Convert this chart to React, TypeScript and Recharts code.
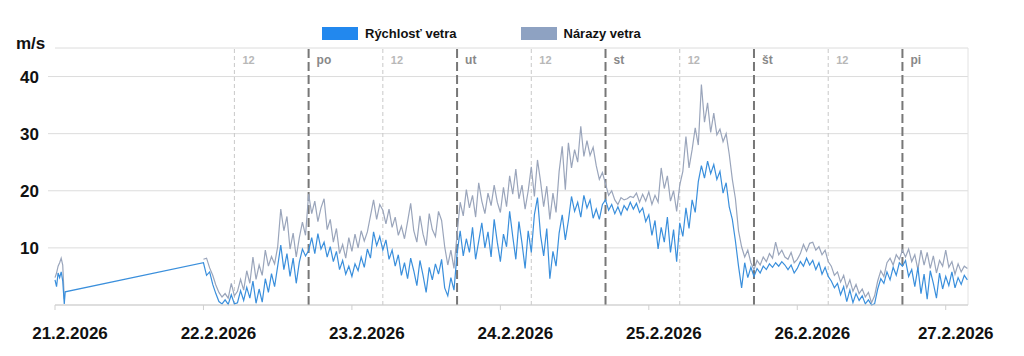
import { LineChart, Line, XAxis, YAxis, CartesianGrid, ReferenceLine } from "recharts";

const FONT = '"Liberation Sans", Arial, Helvetica, sans-serif';
const SPEED_COLOR = "#3a8fdc";
const GUST_COLOR = "#9aa5bb";

// short burst on 21.2 (hours counted from 21.2 00:00)
const FIRST_HOURS = [7.0, 7.25, 7.5, 7.75, 8.0, 8.25, 8.5, 8.65];
const FIRST_SPEED = [4.4, 3.2, 5.6, 4.8, 5.8, 4.2, 0.2, 2.3];
const FIRST_GUST = [4.8, 5.6, 6.8, 7.4, 8.2, 7.0, 1.0, null];

// from 22.2 07:00, one value every 30 min
const MAIN_START = 31;
const MAIN_STEP = 0.5;

const SPEED = [
  // 22.2
  7.4, 5.2, 5.8, 3.6, 2.0, 0.6, 0.2, 0.9, 0.1, 1.8, 0.2, 0.4, 2.5, 0.8, 3.1, 1.2, 4.2, 0.3, 2.8, 0.5,
  4.6, 2.2, 5.5, 3.2, 6.8, 10.5, 6.2, 9.0, 5.0, 8.2, 3.8, 7.5, 9.8, 8.6,
  // 23.2
  9.5, 11.8, 9.0, 12.5, 9.8, 11.0, 8.4, 10.2, 7.6, 9.4, 6.2, 7.8, 5.4, 6.8, 5.0, 7.2, 6.0, 8.4, 6.6, 9.8,
  8.2, 12.8, 10.4, 12.0, 9.6, 11.4, 8.0, 9.6, 6.8, 8.8, 5.2, 7.4, 4.6, 8.2, 6.0, 3.4, 7.8, 5.2, 2.2, 6.6,
  4.4, 7.2, 5.4, 8.0, 3.0, 1.6, 4.8, 2.6,
  // 24.2
  9.0, 13.0, 8.6, 11.6, 9.2, 13.6, 8.0, 11.2, 14.4, 10.0, 12.8, 8.4, 15.0, 11.0, 7.6, 12.4, 10.2, 16.4, 12.0, 8.0,
  14.6, 10.8, 6.4, 13.0, 9.2, 15.8, 18.8, 12.2, 8.6, 13.4, 4.6, 9.4, 6.8, 12.6, 15.8, 11.4, 14.8, 19.0, 16.4, 18.0,
  15.4, 19.2, 17.0, 18.4, 15.2, 16.8, 15.0, 17.6,
  // 25.2
  18.4, 16.6, 17.6, 16.0, 17.2, 15.8, 17.4, 16.6, 18.0, 16.8, 17.8, 16.2, 17.0, 14.6, 15.8, 12.2, 14.8, 9.8, 13.6, 11.0,
  15.4, 9.2, 13.2, 7.6, 14.4, 12.0, 17.0, 13.4, 18.4, 16.2, 21.6, 24.4, 22.2, 25.2, 23.0, 24.6, 22.0, 23.4, 19.6, 21.4,
  17.2, 15.0, 11.2, 6.8, 3.0, 7.4, 4.8, 6.6,
  // 26.2
  5.0, 6.4, 5.6, 6.8, 6.2, 7.2, 6.6, 7.4, 6.8, 7.6, 7.0, 6.2, 7.0, 5.6, 6.4, 7.6, 6.8, 8.2, 7.0, 7.8,
  6.2, 7.4, 5.4, 6.6, 5.0, 4.2, 3.0, 3.8, 1.8, 3.2, 0.6, 2.6, 0.4, 2.0, 0.8, 1.6, 0.2, 0.9, 0.0, 0.2,
  2.8, 4.6, 3.8, 5.8, 4.4, 6.6, 5.2, 7.4,
  // 27.2
  6.8, 7.8, 5.0, 6.2, 3.2, 6.6, 2.0, 5.4, 1.0, 6.0, 3.8, 1.2, 5.6, 2.8, 5.0, 3.4, 5.8, 3.0, 4.8, 3.6,
  5.2, 4.4,
];

const GUST = [
  // 22.2
  8.0, 8.2, 6.5, 5.2, 3.5, 2.2, 1.4, 2.0, 1.2, 3.8, 1.6, 2.4, 4.5, 2.6, 6.0, 3.8, 8.4, 4.5, 7.0, 5.2,
  9.6, 6.8, 8.5, 7.2, 10.2, 16.8, 13.0, 15.5, 9.8, 12.6, 8.4, 11.8, 14.5, 12.2,
  // 23.2
  19.4, 16.0, 18.2, 14.6, 17.0, 18.6, 13.2, 15.0, 11.0, 13.4, 9.0, 10.6, 8.2, 11.8, 9.4, 12.4, 10.0, 13.0, 11.2, 12.8,
  15.6, 18.4, 15.0, 17.6, 16.6, 14.2, 16.8, 13.6, 15.4, 12.2, 13.8, 11.6, 14.6, 17.8, 13.0, 11.0, 15.6, 12.4, 10.4, 16.0,
  13.2, 12.0, 16.4, 14.8, 10.2, 7.0, 9.6, 6.4,
  // 24.2
  12.4, 18.0, 15.6, 20.2, 17.0, 19.2, 15.4, 21.4, 18.2, 16.0, 19.6, 17.4, 21.0, 18.0, 16.2, 20.6, 17.2, 22.6, 19.4, 23.8,
  18.6, 21.0, 16.8, 20.0, 24.2, 19.0, 25.4, 21.6, 17.2, 20.8, 15.0, 19.6, 16.2, 23.4, 27.8, 20.2, 28.4, 24.0, 27.2, 25.0,
  31.3, 26.0, 28.8, 26.2, 27.6, 24.4, 22.0, 23.2,
  // 25.2
  21.2, 19.2, 20.0, 18.4, 17.6, 18.8, 18.4, 18.6, 19.0, 18.8, 19.6, 18.0, 19.4, 18.2, 19.8, 17.6, 19.2, 18.0, 24.0, 20.4,
  22.6, 18.2, 20.0, 16.4, 21.0, 23.4, 29.5, 24.0, 27.2, 31.0, 28.0, 38.6, 32.0, 35.4, 30.2, 33.6, 29.8, 30.8, 28.6, 30.0,
  26.4, 22.0, 18.6, 13.0, 10.2, 8.4, 9.6, 7.4,
  // 26.2
  6.2, 7.8, 7.0, 8.4, 7.6, 9.0, 8.2, 11.0, 8.8, 9.6, 8.4, 8.0, 9.2, 7.4, 8.0, 9.0, 10.6, 9.4, 10.8, 11.0,
  9.6, 10.2, 8.8, 9.6, 7.6, 6.8, 5.2, 5.8, 4.0, 5.2, 3.0, 4.4, 2.4, 3.6, 2.0, 2.8, 1.4, 2.2, 0.4, 1.6,
  4.2, 6.0, 5.0, 7.4, 8.2, 7.0, 8.8, 8.0,
  // 27.2
  9.6, 8.4, 9.8, 7.6, 8.8, 6.2, 9.6, 7.0, 9.2, 6.4, 8.6, 5.6, 7.8, 6.8, 9.6, 6.6, 7.6, 5.4, 7.2, 5.8,
  6.8, 6.4,
];

const X_DOMAIN = [7, 154.6];
const DAY_TICKS = [7, 31, 55, 79, 103, 127, 151];
const DAY_LABELS = ["21.2.2026", "22.2.2026", "23.2.2026", "24.2.2026", "25.2.2026", "26.2.2026", "27.2.2026"];
const MIDNIGHTS = [48, 72, 96, 120, 144];
const WEEKDAYS = ["po", "ut", "st", "št", "pi"];
const NOONS = [36, 60, 84, 108, 132];
const Y_TICKS = [10, 20, 30, 40];

const rows = [
  ...FIRST_HOURS.map((t, i) => ({ t, speed: FIRST_SPEED[i], gust: FIRST_GUST[i] })),
  ...SPEED.map((v, i) => ({ t: MAIN_START + i * MAIN_STEP, speed: v, gust: GUST[i] })),
];

function DateTick({ x, y, index }: any) {
  const dx = index === DAY_TICKS.length - 1 ? 10 : 15;
  return (
    <text x={x + dx} y={y + 27} textAnchor="middle" fontFamily={FONT} fontWeight="bold" fontSize={17} fill="#111">
      {DAY_LABELS[index]}
    </text>
  );
}

function ValueTick({ x, y, payload }: any) {
  return (
    <text x={x - 7} y={y + 6} textAnchor="end" fontFamily={FONT} fontWeight="bold" fontSize={17} fill="#111">
      {payload.value}
    </text>
  );
}

function LineLabel({ viewBox, text, color, size }: any) {
  return (
    <text x={viewBox.x + 8} y={viewBox.y + 16} fontFamily={FONT} fontWeight="bold" fontSize={size} fill={color}>
      {text}
    </text>
  );
}

function LegendItem({ color, label }: { color: string; label: string }) {
  return (
    <div style={{ display: "flex", alignItems: "center", gap: 7 }}>
      <div style={{ width: 36, height: 13, background: color }} />
      <span style={{ fontFamily: FONT, fontWeight: "bold", fontSize: 13, color: "#111" }}>{label}</span>
    </div>
  );
}

export default function App() {
  return (
    <div style={{ position: "absolute", left: 0, top: 0, width: 1024, height: 356, background: "#fff" }}>
      <div style={{ position: "absolute", left: 322, top: 26, display: "flex", gap: 64 }}>
        <LegendItem color="#2288ee" label="Rýchlosť vetra" />
        <LegendItem color="#8ea2c2" label="Nárazy vetra" />
      </div>
      <div
        style={{ position: "absolute", left: 16, top: 34, fontFamily: FONT, fontWeight: "bold", fontSize: 17, color: "#111" }}
      >
        m/s
      </div>
      <LineChart width={1024} height={356} data={rows} margin={{ top: 48, right: 56, bottom: 0, left: 0 }}>
        <CartesianGrid vertical={false} stroke="#dcdcdc" />
        <XAxis
          dataKey="t"
          type="number"
          domain={X_DOMAIN}
          ticks={DAY_TICKS}
          interval={0}
          height={51}
          tick={<DateTick />}
          tickSize={5}
          axisLine={{ stroke: "#cfcfcf" }}
          tickLine={{ stroke: "#cfcfcf" }}
        />
        <YAxis
          domain={[0, 45]}
          ticks={Y_TICKS}
          width={55}
          tickSize={7}
          tick={<ValueTick />}
          axisLine={false}
          tickLine={{ stroke: "#dcdcdc" }}
        />
        {NOONS.map((h) => (
          <ReferenceLine
            key={"n" + h}
            x={h}
            stroke="#c8c8c8"
            strokeDasharray="4 3"
            label={<LineLabel text="12" color="#b8b8b8" size={11} />}
          />
        ))}
        {MIDNIGHTS.map((h, i) => (
          <ReferenceLine
            key={"m" + h}
            x={h}
            stroke="#777"
            strokeWidth={2}
            strokeDasharray="9 4"
            label={<LineLabel text={WEEKDAYS[i]} color="#888" size={12} />}
          />
        ))}
        <ReferenceLine x={X_DOMAIN[1]} stroke="#e2e2e2" />
        <Line
          dataKey="gust"
          stroke={GUST_COLOR}
          strokeWidth={1.2}
          dot={false}
          activeDot={false}
          isAnimationActive={false}
        />
        <Line
          dataKey="speed"
          stroke={SPEED_COLOR}
          strokeWidth={1.2}
          dot={false}
          activeDot={false}
          connectNulls
          isAnimationActive={false}
        />
      </LineChart>
    </div>
  );
}
